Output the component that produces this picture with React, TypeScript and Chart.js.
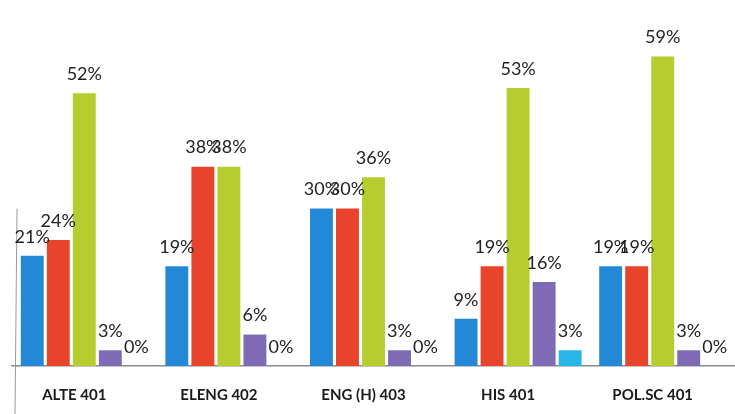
import React, { useEffect, useRef } from "react";
import { Chart, registerables } from "chart.js";

Chart.register(...registerables);

const categories = ["ALTE 401", "ELENG 402", "ENG (H) 403", "HIS 401", "POL.SC 401"];
const seriesBlue = [21, 19, 30, 9, 19];
const seriesRed = [24, 38, 30, 19, 19];
const seriesGreen = [52, 38, 36, 53, 59];
const seriesPurple = [3, 6, 3, 16, 3];
const seriesCyan = [0, 0, 0, 3, 0];
const seriesColors = ["#2389d6", "#e8432b", "#b7cc2e", "#7f6bb5", "#27b6e6"];

const valueLabels = {
  id: "valueLabels",
  afterDatasetsDraw(chart: any) {
    const ctx = chart.ctx;
    ctx.save();
    ctx.fillStyle = "#222";
    ctx.font = "18px Lato, 'Liberation Sans', Arial, sans-serif";
    ctx.textAlign = "center";
    ctx.textBaseline = "bottom";
    chart.data.datasets.forEach((ds: any, i: number) => {
      const meta = chart.getDatasetMeta(i);
      meta.data.forEach((bar: any, j: number) => {
        ctx.fillText(ds.data[j] + "%", bar.x, bar.y - 10);
      });
    });
    ctx.restore();
  },
};

const leftEdge = {
  id: "leftEdge",
  beforeDatasetsDraw(chart: any) {
    const ctx = chart.ctx;
    const y = chart.scales.y;
    const x = chart.chartArea.left + 3;
    ctx.save();
    ctx.strokeStyle = "#9a9a9a";
    ctx.lineWidth = 1;
    ctx.beginPath();
    ctx.moveTo(x + 2, y.getPixelForValue(30));
    ctx.lineTo(x, chart.height);
    ctx.stroke();
    ctx.restore();
  },
};

export default function App() {
  const ref = useRef<HTMLCanvasElement | null>(null);
  useEffect(() => {
    document.body.style.margin = "0";
    const names = ["Series 1", "Series 2", "Series 3", "Series 4", "Series 5"];
    const values = [seriesBlue, seriesRed, seriesGreen, seriesPurple, seriesCyan];
    const chart = new Chart(ref.current as HTMLCanvasElement, {
      type: "bar",
      data: {
        labels: categories,
        datasets: values.map((v, i) => ({
          label: names[i],
          data: v,
          backgroundColor: seriesColors[i],
          borderWidth: 0,
          categoryPercentage: 0.9,
          barPercentage: 0.88,
        })),
      },
      options: {
        animation: false,
        responsive: false,
        maintainAspectRatio: false,
        layout: { padding: { left: 12, right: 0, top: 25, bottom: 0 } },
        plugins: { legend: { display: false }, tooltip: { enabled: false } },
        scales: {
          x: {
            grid: { display: false, drawTicks: false },
            border: { display: true, color: "#8a8a8a", width: 1.5 },
            afterFit(scale: any) {
              scale.height = 48;
            },
            ticks: {
              color: "#1a1a1a",
              padding: 20,
              labelOffset: -10,
              font: { family: "Lato, 'Liberation Sans', Arial, sans-serif", size: 15, weight: "bold" },
            },
          },
          y: {
            display: false,
            min: 0,
            max: 65,
          },
        },
      },
      plugins: [valueLabels, leftEdge],
    });
    return () => chart.destroy();
  }, []);
  return (
    <div style={{ width: 735, height: 414, background: "#fff" }}>
      <canvas ref={ref} width={735} height={414} />
    </div>
  );
}
